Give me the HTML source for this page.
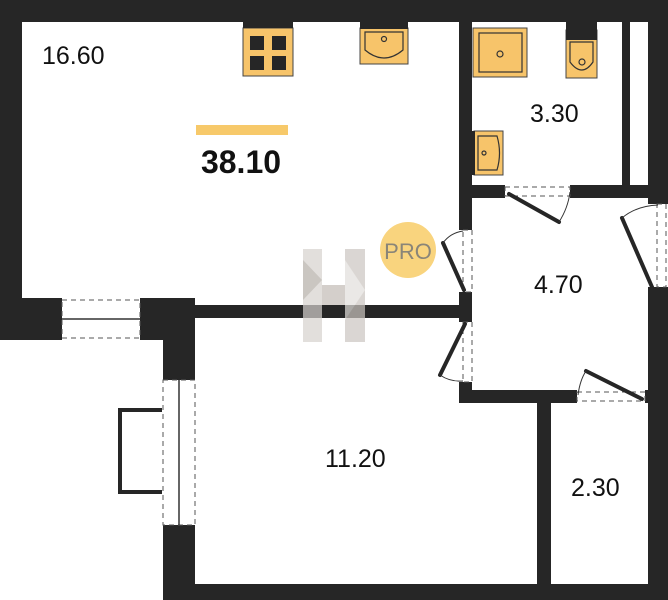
<!DOCTYPE html>
<html><head><style>body{margin:0;background:#fff}svg{display:block}text{font-family:"Liberation Sans",sans-serif}</style></head><body>
<svg width="668" height="600" viewBox="0 0 668 600" xmlns="http://www.w3.org/2000/svg">
<g fill="#262626">
<rect x="0" y="0" width="668" height="22"/>
<rect x="0" y="0" width="22" height="340"/>
<rect x="0" y="298" width="62" height="42"/>
<rect x="140" y="298" width="55" height="42"/>
<rect x="163" y="298" width="32" height="82"/>
<rect x="163" y="525" width="32" height="75"/>
<rect x="163" y="584" width="505" height="16"/>
<rect x="648" y="0" width="20" height="204"/>
<rect x="648" y="287" width="20" height="313"/>
<rect x="195" y="305" width="270" height="13"/>
<rect x="459" y="0" width="13" height="230"/>
<rect x="622" y="22" width="8" height="170"/>
<rect x="459" y="185" width="46" height="13"/>
<rect x="570" y="185" width="98" height="13"/>
<rect x="459" y="292" width="13" height="30"/>
<rect x="459" y="382" width="13" height="20"/>
<rect x="459" y="390" width="118" height="13"/>
<rect x="645" y="390" width="23" height="13"/>
<rect x="537" y="390" width="14" height="210"/>
</g>
<g fill="none" stroke="#555" stroke-width="1" stroke-dasharray="5,4">
<rect x="62" y="300" width="78" height="38"/>
<rect x="163" y="380" width="32" height="145"/>
<rect x="463" y="230" width="9" height="62"/>
<rect x="463" y="322" width="9" height="60"/>
<rect x="505" y="187" width="65" height="9"/>
<rect x="657" y="204" width="9" height="83"/>
<rect x="577" y="392" width="68" height="9"/>
</g>
<line x1="62" y1="319" x2="140" y2="319" stroke="#333" stroke-width="1.5"/>
<line x1="179" y1="380" x2="179" y2="525" stroke="#333" stroke-width="1.5"/>
<path d="M162 410 L120 410 L120 492 L162 492" fill="none" stroke="#262626" stroke-width="4"/>
<g stroke="#262626" stroke-width="4" stroke-linecap="round">
<line x1="509" y1="194" x2="559" y2="222"/>
<line x1="622" y1="218" x2="652" y2="287"/>
<line x1="464" y1="290" x2="443" y2="243"/>
<line x1="465" y1="324" x2="440" y2="375"/>
<line x1="586" y1="371" x2="642" y2="399"/>
</g>
<g fill="none" stroke="#333" stroke-width="1">
<path d="M559 222 Q568 208 570 192"/>
<path d="M622 218 Q636 206 658 205"/>
<path d="M443 243 Q450 233 463 231"/>
<path d="M440 375 Q450 382 463 381"/>
<path d="M586 371 Q580 380 578 395"/>
</g>
<g fill="#f7c46a" stroke="#444" stroke-width="1">
<rect x="243" y="28" width="50" height="48"/>
<rect x="360" y="28" width="48" height="36"/>
<rect x="473" y="28" width="54" height="49"/>
<rect x="566" y="30" width="31" height="48"/>
<rect x="474" y="131" width="29" height="44"/>
</g>
<g fill="#262626">
<rect x="243" y="22" width="50" height="6"/>
<rect x="250" y="36" width="14" height="14"/><rect x="272" y="36" width="14" height="14"/>
<rect x="250" y="56" width="14" height="14"/><rect x="272" y="56" width="14" height="14"/>
<rect x="360" y="22" width="48" height="7"/>
<rect x="566" y="22" width="31" height="18"/>
<rect x="472" y="131" width="3" height="44"/>
</g>
<g fill="none" stroke="#333" stroke-width="1.2">
<path d="M365 32 L403 32 L403 50 Q384 66 365 50 Z"/>
<circle cx="384" cy="39" r="2.5"/>
<rect x="479" y="33" width="43" height="39"/>
<circle cx="500" cy="54" r="3"/>
<path d="M570 42 L593 42 L593 62 Q582 78 570 62 Z"/>
<circle cx="582" cy="62" r="3"/>
<path d="M478 136 L497 136 Q502 153 497 170 L478 170 Z"/>
<circle cx="484" cy="153" r="2"/>
</g>
<g opacity="0.7">
<rect x="303" y="249" width="19" height="93" fill="#d6d2ce"/>
<rect x="345" y="249" width="20" height="93" fill="#cbc6c1"/>
<rect x="322" y="285" width="23" height="20" fill="#c2bcb6"/>
<polygon points="303,260 322,280 303,300" fill="#b5afa8"/>
<polygon points="345,260 365,290 345,320" fill="#e2dfdc"/>
</g>
<circle cx="408" cy="250" r="28" fill="#f9d47e"/>
<text x="408" y="259" font-size="22" fill="#8a8578" text-anchor="middle">PRO</text>
<rect x="196" y="125" width="92" height="10" fill="#f7c96a"/>
<g fill="#111">
<text x="42" y="64" font-size="25">16.60</text>
<text x="241" y="173" font-size="32" font-weight="bold" text-anchor="middle">38.10</text>
<text x="530" y="122" font-size="25">3.30</text>
<text x="534" y="293" font-size="25">4.70</text>
<text x="325" y="467" font-size="25">11.20</text>
<text x="571" y="496" font-size="25">2.30</text>
</g>
</svg>
</body></html>
